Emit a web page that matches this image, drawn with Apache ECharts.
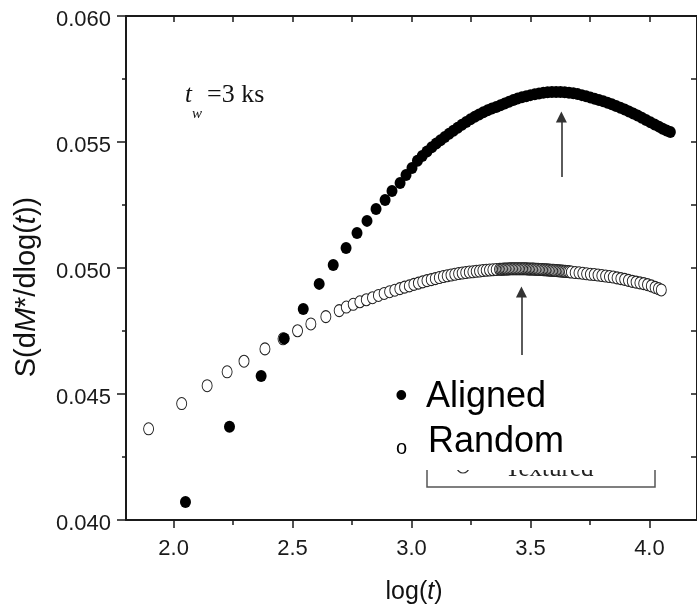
<!DOCTYPE html>
<html>
<head>
<meta charset="utf-8">
<script src="https://cdn.jsdelivr.net/npm/echarts@6/dist/echarts.min.js"></script>
<style>html,body{margin:0;padding:0;background:#fff}#c{width:697px;height:616px}</style>
</head>
<body>
<div id="c"></div>
<script>
// Aligned (filled circles): log(t) and S values
var alignedLogT = [2.050, 2.235, 2.368, 2.465, 2.545, 2.612, 2.671, 2.725, 2.771, 2.813, 2.851, 2.889, 2.918, 2.952, 2.977, 3.002,
  3.025, 3.045, 3.065, 3.085, 3.104, 3.122, 3.140, 3.158, 3.176, 3.194, 3.212, 3.230, 3.248, 3.266, 3.284, 3.302, 3.320, 3.338,
  3.356, 3.374, 3.392, 3.410, 3.428, 3.446, 3.464, 3.482, 3.500, 3.518, 3.536, 3.554, 3.572, 3.590, 3.608, 3.626, 3.644, 3.662,
  3.680, 3.698, 3.716, 3.734, 3.752, 3.770, 3.788, 3.806, 3.824, 3.842, 3.860, 3.878, 3.896, 3.914, 3.932, 3.950, 3.968, 3.986,
  4.004, 4.022, 4.040, 4.056, 4.072, 4.088];
var alignedS = [0.04071, 0.04370, 0.04571, 0.04720, 0.04837, 0.04937, 0.05012, 0.05079, 0.05139, 0.05187, 0.05234, 0.05270, 0.05306, 0.05337, 0.05369, 0.05397,
  0.05426, 0.05444, 0.05462, 0.05479, 0.05494, 0.05507, 0.05520, 0.05533, 0.05545, 0.05557, 0.05568, 0.05579, 0.05590, 0.05600, 0.05609, 0.05618, 0.05626, 0.05633,
  0.05639, 0.05646, 0.05653, 0.05660, 0.05667, 0.05673, 0.05678, 0.05682, 0.05686, 0.05689, 0.05692, 0.05695, 0.05697, 0.05698, 0.05698, 0.05698, 0.05697, 0.05695,
  0.05693, 0.05690, 0.05686, 0.05682, 0.05677, 0.05672, 0.05667, 0.05662, 0.05656, 0.05650, 0.05643, 0.05636, 0.05629, 0.05621, 0.05613, 0.05605, 0.05596, 0.05587,
  0.05578, 0.05569, 0.05561, 0.05553, 0.05546, 0.05540];

// Random (open circles)
var randomLogT = [1.895, 2.034, 2.141, 2.225, 2.296, 2.384, 2.460, 2.521, 2.577, 2.640, 2.696,
  2.726, 2.755, 2.783, 2.810, 2.836, 2.861, 2.885, 2.908, 2.930, 2.951, 2.971, 2.991, 3.010, 3.029, 3.047, 3.065, 3.083, 3.100,
  3.117, 3.134, 3.150, 3.166, 3.182, 3.198, 3.213, 3.228, 3.243, 3.258, 3.272, 3.286, 3.300, 3.314, 3.328, 3.342, 3.356, 3.370,
  3.376, 3.382, 3.388, 3.394, 3.400, 3.406, 3.412, 3.418, 3.424, 3.430, 3.436, 3.442, 3.448, 3.454, 3.460, 3.466, 3.472, 3.478,
  3.484, 3.490, 3.496, 3.502, 3.508, 3.514, 3.520, 3.526, 3.532, 3.538, 3.544, 3.550, 3.556, 3.562, 3.568, 3.574, 3.580, 3.586,
  3.592, 3.598, 3.604, 3.610, 3.616, 3.622, 3.628, 3.634, 3.640, 3.646, 3.652, 3.658, 3.664,
  3.672, 3.688, 3.704, 3.720, 3.736, 3.752, 3.768, 3.784, 3.800, 3.816, 3.832, 3.848, 3.864, 3.880, 3.896, 3.912, 3.928, 3.944,
  3.960, 3.976, 3.992, 4.008, 4.024, 4.038, 4.050];
var randomS = [0.04362, 0.04462, 0.04533, 0.04588, 0.04630, 0.04679, 0.04719, 0.04751, 0.04778, 0.04807, 0.04831,
  0.04845, 0.04856, 0.04866, 0.04874, 0.04882, 0.04891, 0.04899, 0.04906, 0.04912, 0.04918, 0.04924, 0.04929, 0.04935, 0.04940, 0.04945, 0.04950, 0.04954, 0.04958,
  0.04962, 0.04966, 0.04969, 0.04972, 0.04975, 0.04978, 0.04980, 0.04982, 0.04984, 0.04985, 0.04987, 0.04988, 0.04990, 0.04991, 0.04992, 0.04993, 0.04994, 0.04995,
  0.04995, 0.04995, 0.04996, 0.04996, 0.04996, 0.04996, 0.04997, 0.04997, 0.04997, 0.04997, 0.04997, 0.04997, 0.04997, 0.04997, 0.04997, 0.04997, 0.04997, 0.04997,
  0.04997, 0.04996, 0.04996, 0.04996, 0.04996, 0.04996, 0.04995, 0.04995, 0.04995, 0.04994, 0.04994, 0.04994, 0.04993, 0.04993, 0.04993, 0.04992, 0.04992, 0.04991,
  0.04991, 0.04991, 0.04990, 0.04990, 0.04989, 0.04989, 0.04988, 0.04988, 0.04987, 0.04987, 0.04986, 0.04986, 0.04985,
  0.04984, 0.04982, 0.04981, 0.04979, 0.04977, 0.04975, 0.04974, 0.04972, 0.04970, 0.04968, 0.04966, 0.04964, 0.04961, 0.04958, 0.04955, 0.04951, 0.04947, 0.04944,
  0.04941, 0.04938, 0.04934, 0.04929, 0.04923, 0.04918, 0.04913];

// Peak arrows: [logT, S start, S end]
var alignedArrow = [3.63, 0.05361, 0.05599];
var randomArrow = [3.462, 0.04655, 0.04905];

var xMajor = [2.0, 2.5, 3.0, 3.5, 4.0];
var xMinor = [2.25, 2.75, 3.25, 3.75];
var xAll = [2.0, 2.25, 2.5, 2.75, 3.0, 3.25, 3.5, 3.75, 4.0];
var legendNames = ['Aligned', 'Random'];

function zip(a, b) { return a.map(function (v, i) { return [v, b[i]]; }); }

var SANS = "'Liberation Sans', Arial, sans-serif";
var SERIF = "'Liberation Serif', 'Times New Roman', serif";
var AX = '#1a1a1a';

var chart = echarts.init(document.getElementById('c'), null, {renderer: 'canvas'});
chart.setOption({
  animation: false,
  backgroundColor: '#ffffff',
  grid: {left: 126, top: 16, right: -2, bottom: 96, containLabel: false},
  xAxis: [
    {type: 'value', min: 1.8, max: 4.2, position: 'bottom',
     axisLine: {show: true, onZero: false, lineStyle: {color: AX, width: 2}},
     axisTick: {show: true, customValues: xMajor, length: 8, lineStyle: {color: AX, width: 1.5}},
     axisLabel: {customValues: xMajor, formatter: function (v) { return v.toFixed(1); },
       fontFamily: SANS, fontSize: 22, color: AX, margin: 18},
     splitLine: {show: false}},
    {type: 'value', min: 1.8, max: 4.2, position: 'bottom',
     axisLine: {show: false, onZero: false},
     axisTick: {show: true, customValues: xMinor, length: 5, lineStyle: {color: AX, width: 1.5}},
     axisLabel: {show: false}, splitLine: {show: false}},
    {type: 'value', min: 1.8, max: 4.2, position: 'top',
     axisLine: {show: true, onZero: false, lineStyle: {color: AX, width: 2}},
     axisTick: {show: true, inside: true, customValues: xAll, length: 6, lineStyle: {color: AX, width: 1.5}},
     axisLabel: {show: false}, splitLine: {show: false}}
  ],
  yAxis: [
    {type: 'value', min: 0.040, max: 0.060, interval: 0.005, position: 'left',
     axisLine: {show: true, onZero: false, lineStyle: {color: AX, width: 2}},
     axisTick: {show: true, length: 9, lineStyle: {color: AX, width: 1.5}},
     minorTick: {show: true, splitNumber: 2, length: 4, lineStyle: {color: AX, width: 1.5}},
     axisLabel: {formatter: function (v) { return v.toFixed(3); }, fontFamily: SANS, fontSize: 22,
       color: AX, margin: 15, verticalAlign: 'top', lineHeight: 8},
     splitLine: {show: false}, minorSplitLine: {show: false}},
    {type: 'value', min: 0.040, max: 0.060, interval: 0.005, position: 'right',
     axisLine: {show: true, onZero: false, lineStyle: {color: AX, width: 2}},
     axisTick: {show: true, inside: true, length: 6, lineStyle: {color: AX, width: 1.5}},
     minorTick: {show: true, splitNumber: 2, length: 6, lineStyle: {color: AX, width: 1.5}},
     axisLabel: {show: false}, splitLine: {show: false}, minorSplitLine: {show: false}}
  ],
  series: [
    {name: legendNames[1], type: 'scatter', xAxisIndex: 0, yAxisIndex: 0, z: 2,
     data: zip(randomLogT, randomS), symbol: 'circle', symbolSize: [10, 12],
     itemStyle: {color: '#ffffff', borderColor: '#222222', borderWidth: 1, opacity: 1},
     emphasis: {disabled: true}, silent: true,
     markLine: {silent: true, symbol: ['none', 'triangle'], symbolSize: [11, 11],
       label: {show: false}, lineStyle: {color: '#333', width: 1.6, type: 'solid'},
       data: [[{coord: [randomArrow[0], randomArrow[1]]}, {coord: [randomArrow[0], randomArrow[2]]}]]}},
    {name: legendNames[0], type: 'scatter', xAxisIndex: 0, yAxisIndex: 0, z: 3,
     data: zip(alignedLogT, alignedS), symbol: 'circle', symbolSize: [11, 12],
     itemStyle: {color: '#000000', opacity: 1}, emphasis: {disabled: true}, silent: true,
     markLine: {silent: true, symbol: ['none', 'triangle'], symbolSize: [11, 11],
       label: {show: false}, lineStyle: {color: '#333', width: 1.6, type: 'solid'},
       data: [[{coord: [alignedArrow[0], alignedArrow[1]]}, {coord: [alignedArrow[0], alignedArrow[2]]}]]}}
  ],
  graphic: [
    // remnant of original "Textured" legend box (partly covered)
    {type: 'polyline', z: 100, shape: {points: [[427, 462], [427, 487], [655, 487], [655, 462]]},
     style: {stroke: '#555', lineWidth: 1.5, fill: null}},
    {type: 'text', z: 100, left: 505, top: 457,
     style: {text: 'Textured', font: '25px ' + SERIF, fill: '#222'}},
    {type: 'circle', z: 100, shape: {cx: 463, cy: 467, r: 6}, style: {stroke: '#333', lineWidth: 1.2, fill: '#fff'}},
    // white legend box
    {type: 'rect', z: 101, shape: {x: 375, y: 362, width: 288, height: 108}, style: {fill: '#ffffff'}},
    {type: 'text', z: 102, x: 395, y: 397,
     style: {text: '\u2022', font: '36px ' + SANS, fill: '#000', verticalAlign: 'middle', align: 'left'}},
    {type: 'text', z: 102, x: 426, y: 397,
     style: {text: legendNames[0], font: '36px ' + SANS, fill: '#000', verticalAlign: 'middle', align: 'left'}},
    {type: 'text', z: 102, x: 396, y: 448,
     style: {text: 'o', font: '20px ' + SANS, fill: '#000', verticalAlign: 'middle', align: 'left'}},
    {type: 'text', z: 102, x: 428, y: 442,
     style: {text: legendNames[1], font: '36px ' + SANS, fill: '#000', verticalAlign: 'middle', align: 'left'}},
    // t_w = 3 ks annotation
    {type: 'text', z: 102, x: 185, y: 108,
     style: {text: 't', font: 'italic 25px ' + SERIF, fill: '#111', verticalAlign: 'bottom', align: 'left'}},
    {type: 'text', z: 102, x: 192, y: 122,
     style: {text: 'w', font: 'italic 15px ' + SERIF, fill: '#111', verticalAlign: 'bottom', align: 'left'}},
    {type: 'text', z: 102, x: 207, y: 108,
     style: {text: '=3 ks', font: '26px ' + SERIF, fill: '#111', verticalAlign: 'bottom', align: 'left'}},
    // axis titles
    {type: 'text', z: 102, x: 414, y: 592,
     style: {text: '{n|log(}{i|t}{n|)}', align: 'center', verticalAlign: 'middle',
       rich: {n: {fontFamily: SANS, fontSize: 25, fill: '#111'}, i: {fontFamily: SANS, fontSize: 25, fontStyle: 'italic', fill: '#111'}}}},
    {type: 'text', z: 102, x: 27, y: 287, rotation: Math.PI / 2,
     style: {text: '{n|S(d}{i|M}{n|*/dlog(}{i|t}{n|))}', align: 'center', verticalAlign: 'middle',
       rich: {n: {fontFamily: SANS, fontSize: 29, fill: '#111'}, i: {fontFamily: SANS, fontSize: 29, fontStyle: 'italic', fill: '#111'}}}}
  ]
});
</script>
</body>
</html>
